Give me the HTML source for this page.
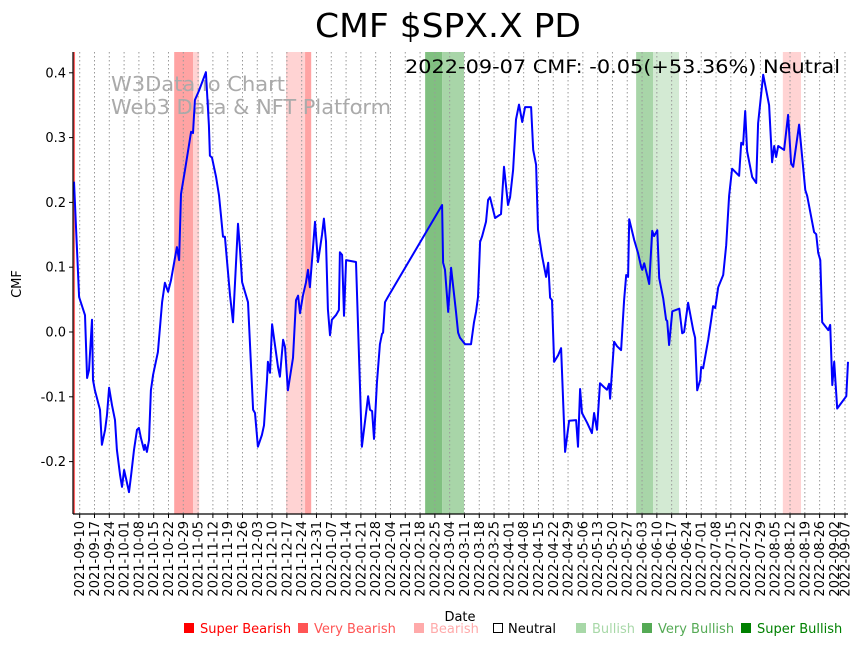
<!DOCTYPE html>
<html><head><meta charset="utf-8"><style>
body{margin:0;background:#fff;}
svg{display:block;font-family:"DejaVu Sans","Liberation Sans",sans-serif;}
</style></head><body>
<svg id="chart" width="867" height="646" viewBox="0 0 867 646" xmlns="http://www.w3.org/2000/svg">
<text x="315" y="37" font-size="33" textLength="266" lengthAdjust="spacingAndGlyphs" fill="#000">CMF $SPX.X PD</text>
<g id="bands"></g>
<g id="grid"></g>
<text x="111" y="91" font-size="20" textLength="174" lengthAdjust="spacingAndGlyphs" fill="#aaa">W3Data.io Chart</text>
<text x="111" y="114" font-size="20" textLength="280" lengthAdjust="spacingAndGlyphs" fill="#aaa">Web3 Data &amp; NFT Platform</text>
<path id="line" fill="none" stroke="#0000ff" stroke-width="2" stroke-linejoin="round"/>
<text x="405" y="73" font-size="19" textLength="435" lengthAdjust="spacingAndGlyphs" fill="#000">2022-09-07 CMF: -0.05(+53.36%) Neutral</text>
<line x1="73" y1="52" x2="73" y2="514" stroke="#000" stroke-width="1.2"/>
<line x1="73" y1="514" x2="848" y2="514" stroke="#000" stroke-width="1.2"/>
<g id="yticks"></g>
<g id="xticks"></g>
<text transform="translate(21,284) rotate(-90)" font-size="13" text-anchor="middle">CMF</text>
<text x="460" y="621" font-size="13" text-anchor="middle">Date</text>
<g font-size="13">
<g><rect x="184" y="623" width="10" height="10" fill="#ff0000"/><text x="200" y="633" fill="#ff0000">Super Bearish</text></g>
<g><rect x="298" y="623" width="10" height="10" fill="#ff5555"/><text x="314" y="633" fill="#ff5555">Very Bearish</text></g>
<g><rect x="414" y="623" width="10" height="10" fill="#ffaaaa"/><text x="430" y="633" fill="#ffaaaa">Bearish</text></g>
<g><rect x="493.5" y="623.5" width="9" height="9" fill="#fff" stroke="#000"/><text x="508" y="633" fill="#000">Neutral</text></g>
<g><rect x="576" y="623" width="10" height="10" fill="#a8d8a8"/><text x="592" y="633" fill="#a8d8a8">Bullish</text></g>
<g><rect x="642" y="623" width="10" height="10" fill="#55aa55"/><text x="658" y="633" fill="#55aa55">Very Bullish</text></g>
<g><rect x="741" y="623" width="10" height="10" fill="#008000"/><text x="757" y="633" fill="#008000">Super Bullish</text></g>
</g>
</svg>
<script>
// days since 2021-09-10
const days=[-2.7,-0.3,2.5,3.5,4.4,5.8,6.3,7.2,9.6,10.5,12,12.9,13.9,15.3,16.7,17.6,19.1,20,21,21.9,23.3,24.3,25.7,27.1,28,29,30.4,30.9,31.8,32.8,33.7,34.7,37,39,40.3,41.8,43.2,46,47,47.9,49.8,52.7,53.6,54.5,56.4,59.7,61.1,61.6,62.6,64.5,65.9,66.8,67.8,68.7,69.7,71.1,72.5,73.9,74.9,75.8,76.8,79.6,82,82.9,84.3,86.2,87.2,88.6,89,90,91,93.8,94.7,96.2,97.1,98.5,100.9,102.3,103.3,104.2,105.6,107,108,108.9,111.3,112.7,114.6,115.5,116.5,117.4,118.4,119.3,121.2,122.6,123.1,124.1,125,126,130.7,133.5,136.4,137.3,138.3,139.2,140.6,142,143,143.5,144.4,145.8,171.4,171.9,172.8,174.3,175.7,178,179,179.9,182.3,185.1,186.5,187.5,188.4,189.4,190.3,192.2,193.2,194.1,196.5,199.3,200.7,202.6,203.6,205,206.4,207.8,209.3,210.7,213.5,214.5,215.9,216.8,218.7,220.6,221.6,222.5,223.4,224.4,226.3,227.7,229.6,231.5,234.8,235.7,236.7,237.6,240,242.3,243.3,244.7,246.1,248,249.4,250.4,250.9,252.8,254.2,256.1,257.5,258.5,259.4,259.9,262.3,264.1,265.6,266.1,267,268.4,269.4,270.8,271.7,273.2,274.1,276,277.4,277.9,278.8,280.3,283.6,285,285.9,287.8,290.2,291.1,292.1,293.5,294,294.9,297.3,298.7,299.6,300.6,302,304.4,305.8,307.2,308.6,311.9,312.9,313.8,314.8,315.7,318.1,320,320.9,323.3,326.1,327.5,328.5,329.4,330.4,333.2,335.1,336.5,337.5,340.3,343.2,344.1,347.4,348.4,349.3,350.3,351.2,354.1,355,356,356.9,358.3,362.6,363.5];
const cmf=[0.232,0.054,0.026,-0.071,-0.059,0.019,-0.074,-0.090,-0.120,-0.174,-0.151,-0.128,-0.086,-0.113,-0.136,-0.182,-0.221,-0.239,-0.213,-0.226,-0.247,-0.221,-0.182,-0.151,-0.148,-0.164,-0.182,-0.174,-0.185,-0.167,-0.090,-0.066,-0.031,0.046,0.076,0.062,0.080,0.131,0.111,0.213,0.250,0.309,0.307,0.358,0.372,0.401,0.319,0.272,0.269,0.239,0.211,0.181,0.147,0.147,0.108,0.057,0.015,0.103,0.167,0.130,0.077,0.046,-0.120,-0.125,-0.177,-0.159,-0.144,-0.074,-0.046,-0.063,0.012,-0.054,-0.069,-0.012,-0.023,-0.090,-0.040,0.049,0.056,0.029,0.056,0.076,0.096,0.069,0.170,0.108,0.150,0.175,0.140,0.035,-0.005,0.019,0.026,0.034,0.123,0.119,0.025,0.111,0.108,-0.177,-0.099,-0.120,-0.122,-0.165,-0.079,-0.019,-0.003,-0.001,0.046,0.054,0.196,0.107,0.096,0.031,0.099,0.031,-0.001,-0.009,-0.019,-0.019,0.015,0.032,0.054,0.139,0.147,0.170,0.204,0.208,0.176,0.182,0.255,0.196,0.208,0.250,0.328,0.351,0.324,0.347,0.347,0.281,0.258,0.158,0.117,0.085,0.107,0.053,0.049,-0.046,-0.036,-0.025,-0.185,-0.137,-0.136,-0.177,-0.088,-0.125,-0.140,-0.156,-0.125,-0.151,-0.079,-0.085,-0.089,-0.080,-0.103,-0.015,-0.022,-0.028,0.049,0.088,0.085,0.174,0.142,0.122,0.100,0.096,0.106,0.088,0.074,0.156,0.148,0.157,0.083,0.052,0.019,0.017,-0.020,0.032,0.036,-0.002,0.000,0.045,0.003,-0.009,-0.090,-0.074,-0.054,-0.056,-0.012,0.019,0.040,0.037,0.069,0.088,0.134,0.210,0.252,0.241,0.292,0.289,0.341,0.279,0.239,0.230,0.322,0.397,0.350,0.262,0.287,0.270,0.287,0.281,0.335,0.260,0.255,0.320,0.219,0.210,0.154,0.151,0.122,0.111,0.015,0.003,0.011,-0.082,-0.046,-0.118,-0.099,-0.046];
const tickDays=[0,7,14,21,28,35,42,49,56,63,70,77,84,91,98,105,112,119,126,133,140,147,154,161,168,175,182,189,196,203,210,217,224,231,238,245,252,259,266,273,280,287,294,301,308,315,322,329,336,343,350,357,362];
const yTicks=[-0.2,-0.1,0.0,0.1,0.2,0.3,0.4];
// bands: start day, end day, signal
const bandStart=[-3,44.7,53.7,97.6,106.6,163.4,171.4,263.2,271.2,332.6];
const bandEnd=[-2.2,53.7,56.5,106.6,109.5,171.4,181.8,271.2,283.5,341.2];
const bandSignal=['super-bearish','very-bearish','bearish','bearish','very-bearish','very-bullish','bullish','bullish','light-bullish','bearish'];
const bandColor={'super-bearish':'#ff6666','very-bearish':'#ffa3a3','bearish':'#ffd3d3','very-bullish':'#80c080','bullish':'#a8d5a8','light-bullish':'#d3ead3'};

const NS='http://www.w3.org/2000/svg';
const X0=73,X1=848,Y0=52,Y1=514;
const xs=d=>79.7+d*(845-79.7)/362;
const ys=v=>332-v*648;
function mk(t,a,p){const e=document.createElementNS(NS,t);for(const k in a)e.setAttribute(k,a[k]);p.appendChild(e);return e;}
const start=Date.UTC(2021,8,10);
function lab(d){const dt=new Date(start+d*86400000);return dt.toISOString().slice(0,10);}

const bg=document.getElementById('bands');
bandStart.forEach((s,i)=>{
  const x1=Math.max(X0,xs(s)),x2=xs(bandEnd[i]);
  const r=mk('rect',{x:x1,y:Y0,width:Math.max(1,x2-x1),height:Y1-Y0,fill:bandColor[bandSignal[i]]},bg);
  
  
});
const gg=document.getElementById('grid'),xt=document.getElementById('xticks');
tickDays.forEach(d=>{
  const x=xs(d);
  const l=mk('line',{x1:x,y1:Y0,x2:x,y2:Y1,stroke:'#999','stroke-width':1,'stroke-dasharray':'1.5,2.5'},gg);
  
  
  const tk=mk('line',{x1:x,y1:Y1,x2:x,y2:Y1+4,stroke:'#000'},xt);
  
  
  const t=mk('text',{transform:`translate(${x+4.5},${Y1+7}) rotate(-90)`,'font-size':13,'text-anchor':'end'},xt);
  t.textContent=lab(d);
  
  
});
const yt=document.getElementById('yticks');
yTicks.forEach(v=>{
  const y=ys(v);
  const tk=mk('line',{x1:X0-4,y1:y,x2:X0,y2:y,stroke:'#000'},yt);
  
  
  const t=mk('text',{x:X0-7,y:y+4.5,'font-size':13,'text-anchor':'end'},yt);
  t.textContent=v.toFixed(1);
  
  
});
document.getElementById('line').setAttribute('d',days.map((d,i)=>(i?'L':'M')+Math.max(X0,Math.min(X1,xs(d))).toFixed(1)+','+ys(cmf[i]).toFixed(1)).join(''));
</script>
</body></html>
